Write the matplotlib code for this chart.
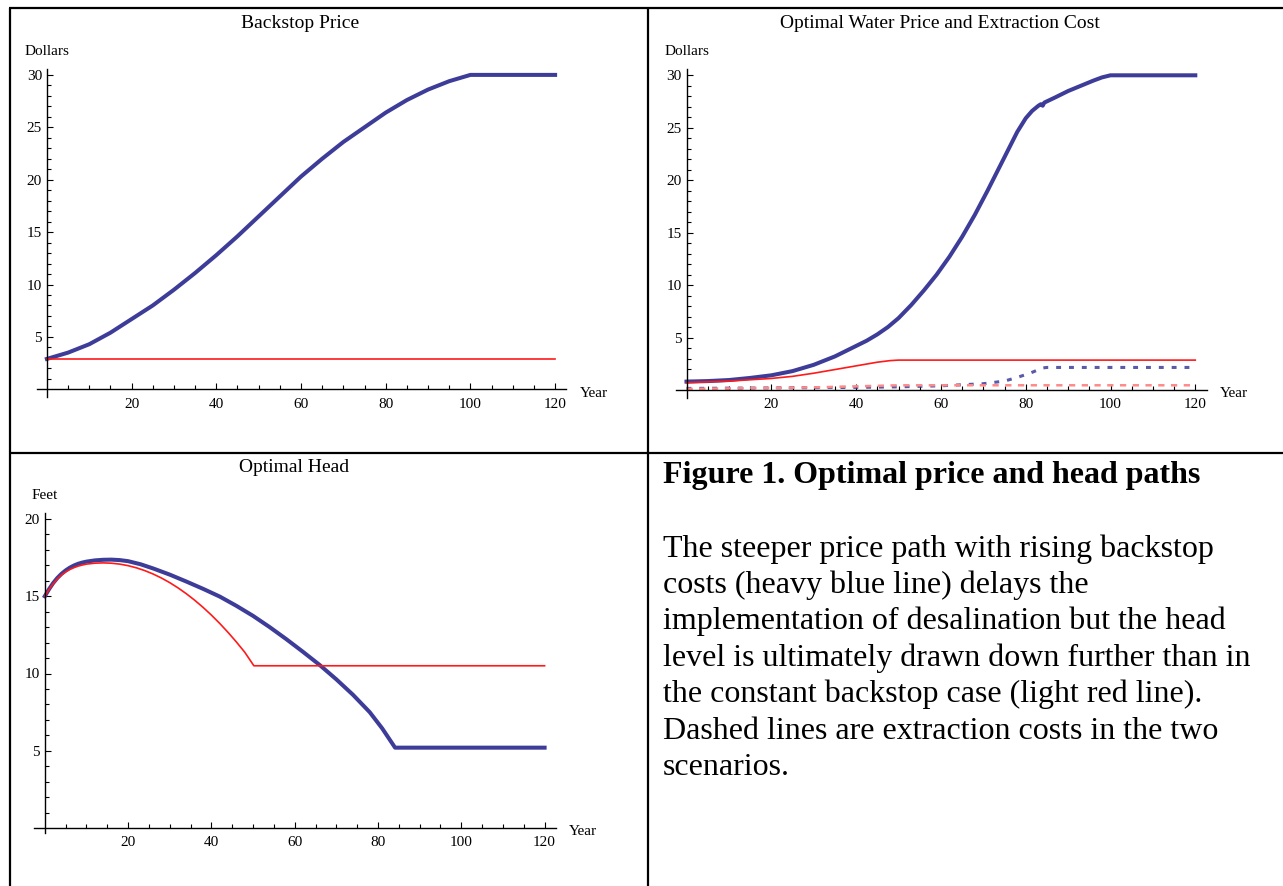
import matplotlib.pyplot as plt

# ==============================
# data
# ==============================
# Backstop Price (top left)
bp_year = [0, 5, 10, 15, 20, 25, 30, 35, 40, 45, 50, 55, 60, 65, 70, 75, 80, 85, 90, 95, 100, 120]
bp_rising = [2.9, 3.5, 4.3, 5.4, 6.7, 8.0, 9.5, 11.1, 12.8, 14.6, 16.5, 18.4, 20.3, 22.0, 23.6,
             25.0, 26.4, 27.6, 28.6, 29.4, 30.0, 30.0]
bp_const_year = [0, 120]
bp_const = [2.9, 2.9]

# Optimal Water Price and Extraction Cost (top right)
wp_year = [0, 5, 10, 15, 20, 25, 30, 35, 40, 42.5, 45, 47.5, 50, 53, 56, 59, 62, 65, 68, 71, 74,
           76, 78, 80, 81.5, 83, 83.6, 84.0, 84.4, 87, 90, 93, 96, 98, 100, 120]
wp_rising = [0.8, 0.85, 0.95, 1.15, 1.4, 1.8, 2.4, 3.2, 4.2, 4.7, 5.3, 6.0, 6.85, 8.1, 9.5,
             11.0, 12.7, 14.6, 16.7, 19.0, 21.4, 23.0, 24.6, 25.9, 26.6, 27.1, 27.25, 27.1,
             27.4, 27.9, 28.5, 29.0, 29.5, 29.8, 30.0, 30.0]
wp_const_year = [0, 10, 20, 25, 30, 35, 40, 45, 48, 50, 120]
wp_const = [0.7, 0.85, 1.1, 1.3, 1.6, 1.95, 2.3, 2.65, 2.8, 2.85, 2.85]
ec_rising_year = [0, 20, 40, 50, 60, 65, 70, 75, 78, 81, 84, 85, 120]
ec_rising = [0.15, 0.2, 0.25, 0.3, 0.4, 0.5, 0.6, 0.85, 1.2, 1.6, 2.1, 2.15, 2.15]
ec_const_year = [0, 20, 30, 40, 50, 120]
ec_const = [0.1, 0.2, 0.25, 0.35, 0.45, 0.45]

# Optimal Head (bottom left)
hd_year = [0, 1, 2, 3, 4, 5, 6, 7, 8, 9, 10, 12, 14, 16, 18, 20, 23, 26, 30, 34, 38, 42, 46, 50,
           54, 58, 62, 66, 70, 74, 78, 81, 84.1, 120]
hd_rising = [15.0, 15.45, 15.85, 16.18, 16.45, 16.67, 16.85, 16.99, 17.1, 17.18, 17.24, 17.32,
             17.36, 17.37, 17.34, 17.27, 17.07, 16.8, 16.4, 15.95, 15.48, 14.98, 14.38, 13.73,
             13.0, 12.22, 11.4, 10.55, 9.62, 8.62, 7.5, 6.45, 5.2, 5.2]
hd_const_year = [0, 1, 2, 3, 4, 5, 6, 7, 8, 9, 10, 12, 14, 16, 18, 20, 22, 24, 26, 28, 30, 32,
                 34, 36, 38, 40, 42, 44, 46, 48, 50.2, 120]
hd_const = [15.0, 15.43, 15.8, 16.12, 16.38, 16.57, 16.73, 16.85, 16.95, 17.02, 17.08, 17.14,
            17.16, 17.14, 17.08, 16.98, 16.84, 16.66, 16.44, 16.18, 15.88, 15.54, 15.16, 14.74,
            14.28, 13.78, 13.24, 12.66, 12.04, 11.38, 10.5, 10.5]

caption_title = "Figure 1. Optimal price and head paths"
caption_lines = [
    "The steeper price path with rising backstop",
    "costs (heavy blue line) delays the",
    "implementation of desalination but the head",
    "level is ultimately drawn down further than in",
    "the constant backstop case (light red line).",
    "Dashed lines are extraction costs in the two",
    "scenarios.",
]

BLUE = '#3d3d99'
RED = '#ff1a1a'
LIGHT_RED = '#ff8a8a'

plt.rcParams['font.family'] = ['Liberation Serif', 'DejaVu Serif']

W, H = 1283, 886
fig = plt.figure(figsize=(W / 100, H / 100), dpi=100)

# table borders, drawn in pixel coordinates
frame = fig.add_axes([0, 0, 1, 1])
frame.set_xlim(0, W)
frame.set_ylim(H, 0)
frame.axis('off')
for xs, ys in [([9, W], [7.5, 7.5]), ([10, 10], [7.5, H]), ([647.5, 647.5], [7.5, H]),
               ([10, W], [452.5, 452.5])]:
    frame.plot(xs, ys, color='black', lw=1.6, solid_capstyle='butt')


def add_plot(x0, y0, sx, sy, xlim, ylim, ymax_tick):
    # x0, y0: pixel of the data origin, sx, sy: pixels per unit
    left = x0 + xlim[0] * sx
    right = x0 + xlim[1] * sx
    top = y0 - ylim[1] * sy
    bottom = y0 - ylim[0] * sy
    ax = fig.add_axes([left / W, 1 - bottom / H, (right - left) / W, (bottom - top) / H])
    ax.set_xlim(*xlim)
    ax.set_ylim(*ylim)
    ax.patch.set_alpha(0)
    for s in ['top', 'right']:
        ax.spines[s].set_visible(False)
    ax.spines['left'].set_position(('data', 0))
    ax.spines['bottom'].set_position(('data', 0))
    for s in ['left', 'bottom']:
        ax.spines[s].set_linewidth(1.0)
    ax.set_xticks(list(range(20, 121, 20)))
    ax.set_xticks([v for v in range(5, 121, 5) if v % 20], minor=True)
    ax.set_yticks(list(range(5, ymax_tick + 1, 5)))
    ax.set_yticks([v for v in range(1, ymax_tick + 1) if v % 5], minor=True)
    ax.tick_params(which='major', direction='in', length=4.2, width=0.8, labelsize=11)
    ax.tick_params(which='minor', direction='in', length=2.6, width=0.8)
    ax.tick_params(axis='x', which='major', pad=6)
    ax.tick_params(axis='y', which='major', pad=3.5)
    return ax


# ---- Backstop Price
ax1 = add_plot(46.9, 389.3, 4.235, 10.48, (-2.3, 122.6), (-0.75, 30.6), 30)
ax1.plot(bp_year, bp_rising, color=BLUE, lw=2.9, solid_joinstyle='round')
ax1.plot(bp_const_year, bp_const, color=RED, lw=1.2)
fig.text(300 / W, 1 - 28 / H, "Backstop Price", ha='center', va='baseline', fontsize=14)
fig.text(46.9 / W, 1 - 55 / H, "Dollars", ha='center', va='baseline', fontsize=11)
fig.text(580 / W, 1 - 396.5 / H, "Year", ha='left', va='baseline', fontsize=11)

# ---- Optimal Water Price and Extraction Cost
ax2 = add_plot(686.5, 390.0, 4.24, 10.49, (-2.4, 122.7), (-0.75, 30.6), 30)
ax2.plot(wp_year, wp_rising, color=BLUE, lw=2.9, solid_joinstyle='round')
ax2.plot(wp_const_year, wp_const, color=RED, lw=1.2)
ax2.plot(ec_rising_year, ec_rising, color=BLUE, lw=2.2, ls=(0, (1.6, 2.6)), alpha=0.85)
ax2.plot(ec_const_year, ec_const, color=LIGHT_RED, lw=1.8, ls=(0, (2.5, 2.6)))
fig.text(940 / W, 1 - 28 / H, "Optimal Water Price and Extraction Cost", ha='center',
         va='baseline', fontsize=14)
fig.text(686.5 / W, 1 - 55 / H, "Dollars", ha='center', va='baseline', fontsize=11)
fig.text(1220 / W, 1 - 397 / H, "Year", ha='left', va='baseline', fontsize=11)

# ---- Optimal Head
ax3 = add_plot(44.8, 828.0, 4.165, 15.45, (-2.6, 122.7), (-0.35, 20.4), 20)
ax3.plot(hd_year, hd_rising, color=BLUE, lw=2.9, solid_joinstyle='round')
ax3.plot(hd_const_year, hd_const, color=RED, lw=1.2)
fig.text(294 / W, 1 - 472 / H, "Optimal Head", ha='center', va='baseline', fontsize=14)
fig.text(44.8 / W, 1 - 499 / H, "Feet", ha='center', va='baseline', fontsize=11)
fig.text(568.5 / W, 1 - 835 / H, "Year", ha='left', va='baseline', fontsize=11)

# ---- caption cell
fig.text(663 / W, 1 - 483 / H, caption_title, ha='left', va='baseline', fontsize=23,
         fontweight='bold')
for i, line in enumerate(caption_lines):
    fig.text(663 / W, 1 - (556.7 + i * 36.4) / H, line, ha='left', va='baseline', fontsize=23)

fig.savefig('out.png', dpi=100)
